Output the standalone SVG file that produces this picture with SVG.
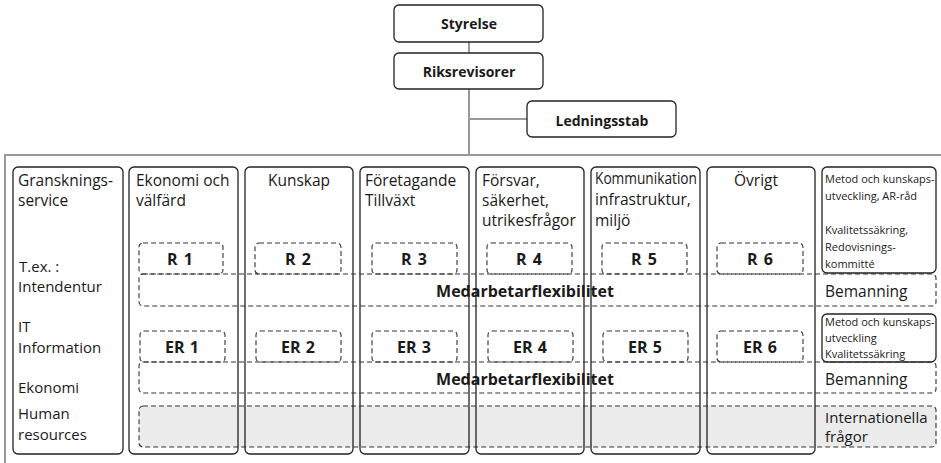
<svg xmlns="http://www.w3.org/2000/svg" width="941" height="463" viewBox="0 0 941 463">
<style>
.t{font-family:"Open Sans","Noto Sans",sans-serif;font-size:15.5px;fill:#1a1a1a}
.l{font-family:"Open Sans","Noto Sans",sans-serif;font-size:15px;fill:#1a1a1a}
.s{font-family:"Open Sans","Noto Sans",sans-serif;font-size:11px;fill:#1a1a1a}
.b{font-family:"Open Sans","Noto Sans",sans-serif;font-weight:bold;fill:#1a1a1a}
.box{fill:#fff;stroke:#222;stroke-width:1.3}
.col{fill:none;stroke:#222;stroke-width:1.3}
.dash{fill:none;stroke:#333;stroke-width:1.1;stroke-dasharray:5 3}
.gray{stroke:#999;stroke-width:2;fill:none}
.m{text-anchor:middle}
</style>
<g id="connectors">
<line class="gray" x1="469" y1="42" x2="469" y2="53"/>
<line class="gray" x1="469" y1="89" x2="469" y2="155"/>
<line class="gray" x1="469" y1="119" x2="527" y2="119"/>
<polyline class="gray" points="5,463 5,155 941,155"/>
</g>
<g id="styrelse"><rect class="box" x="394" y="5" width="149" height="37" rx="5"/><text class="b m" x="469" y="29" font-size="14">Styrelse</text></g>
<g id="riksrevisorer"><rect class="box" x="394" y="53" width="149" height="36" rx="5"/><text class="b m" x="469" y="77" font-size="14">Riksrevisorer</text></g>
<g id="ledningsstab"><rect class="box" x="527" y="101" width="149" height="36" rx="5"/><text class="b m" x="602" y="126" font-size="14">Ledningsstab</text></g>

<g id="internationella"><rect x="139" y="406" width="797" height="41" rx="4" fill="#ebebeb" stroke="#333" stroke-width="1.1" stroke-dasharray="5 3"/>
<text class="l" x="825" y="423">Internationella</text><text class="l" x="825" y="442">frågor</text></g>

<g id="col-granskning"><rect class="col" x="13" y="167" width="110" height="287" rx="5"/>
<text class="t" x="18" y="186">Gransknings-</text><text class="t" x="18" y="206">service</text>
<text class="l" x="19" y="272">T.ex. :</text><text class="l" x="18" y="292">Intendentur</text>
<text class="l" x="18" y="332">IT</text><text class="l" x="18" y="353">Information</text>
<text class="l" x="18" y="393">Ekonomi</text><text class="l" x="18" y="419">Human</text><text class="l" x="18" y="440">resources</text></g>
<g id="col-ekonomi"><rect class="col" x="129" y="167" width="109" height="287" rx="5"/>
<text class="t" x="136" y="186">Ekonomi och</text><text class="t" x="136" y="206">välfärd</text></g>
<g id="col-kunskap"><rect class="col" x="245" y="167" width="108" height="287" rx="5"/>
<text class="t m" x="299" y="186">Kunskap</text></g>
<g id="col-foretagande"><rect class="col" x="360" y="167" width="109" height="287" rx="5"/>
<text class="t" x="365" y="186">Företagande</text><text class="t" x="365" y="206">Tillväxt</text></g>
<g id="col-forsvar"><rect class="col" x="476" y="167" width="108" height="287" rx="5"/>
<text class="t" x="482" y="186">Försvar,</text><text class="t" x="482" y="206">säkerhet,</text><text class="t" x="482" y="226">utrikesfrågor</text></g>
<g id="col-kommunikation"><rect class="col" x="591" y="167" width="109" height="287" rx="5"/>
<text class="t" x="595" y="184" font-size="12.5" textLength="102" lengthAdjust="spacingAndGlyphs">Kommunikation</text><text class="t" x="595" y="205" font-size="14">infrastruktur,</text><text class="t" x="595" y="226" font-size="14">miljö</text></g>
<g id="col-ovrigt"><rect class="col" x="707" y="167" width="108" height="287" rx="5"/>
<text class="t m" x="756" y="186">Övrigt</text></g>
<g id="metod1"><rect class="col" x="822" y="167" width="114" height="106" rx="5"/>
<text class="s" x="825" y="183">Metod och kunskaps-</text><text class="s" x="825" y="200">utveckling, AR-råd</text>
<text class="s" x="825" y="234">Kvalitetssäkring,</text><text class="s" x="825" y="251">Redovisnings-</text><text class="s" x="825" y="268">kommitté</text></g>
<g id="metod2"><rect class="col" x="822" y="314" width="114" height="48" rx="5"/>
<text class="s" x="825" y="326">Metod och kunskaps-</text><text class="s" x="825" y="342">utveckling</text><text class="s" x="825" y="358">Kvalitetssäkring</text></g>

<g id="r1"><rect class="dash" x="139" y="243" width="84" height="31" rx="4"/><text class="b m" x="180" y="265" font-size="16" word-spacing="2">R 1</text></g>
<g id="r2"><rect class="dash" x="255" y="243" width="86" height="31" rx="4"/><text class="b m" x="298" y="265" font-size="16" word-spacing="2">R 2</text></g>
<g id="r3"><rect class="dash" x="372" y="243" width="85" height="31" rx="4"/><text class="b m" x="414" y="265" font-size="16" word-spacing="2">R 3</text></g>
<g id="r4"><rect class="dash" x="487" y="243" width="85" height="31" rx="4"/><text class="b m" x="529" y="265" font-size="16" word-spacing="2">R 4</text></g>
<g id="r5"><rect class="dash" x="602" y="243" width="85" height="31" rx="4"/><text class="b m" x="644" y="265" font-size="16" word-spacing="2">R 5</text></g>
<g id="r6"><rect class="dash" x="717" y="243" width="86" height="31" rx="4"/><text class="b m" x="760" y="265" font-size="16" word-spacing="2">R 6</text></g>

<g id="flex1"><rect class="dash" x="139" y="274" width="797" height="32" rx="4"/>
<text class="b m" x="525" y="297" font-size="16">Medarbetarflexibilitet</text><text class="t" x="825" y="297">Bemanning</text></g>

<g id="er1"><rect class="dash" x="140" y="331" width="85" height="31" rx="4"/><text class="b m" x="182" y="353" font-size="16" word-spacing="1">ER 1</text></g>
<g id="er2"><rect class="dash" x="256" y="331" width="85" height="31" rx="4"/><text class="b m" x="298" y="353" font-size="16" word-spacing="1">ER 2</text></g>
<g id="er3"><rect class="dash" x="372" y="331" width="85" height="31" rx="4"/><text class="b m" x="414" y="353" font-size="16" word-spacing="1">ER 3</text></g>
<g id="er4"><rect class="dash" x="488" y="331" width="85" height="31" rx="4"/><text class="b m" x="530" y="353" font-size="16" word-spacing="1">ER 4</text></g>
<g id="er5"><rect class="dash" x="603" y="331" width="85" height="31" rx="4"/><text class="b m" x="645" y="353" font-size="16" word-spacing="1">ER 5</text></g>
<g id="er6"><rect class="dash" x="717" y="331" width="86" height="31" rx="4"/><text class="b m" x="760" y="353" font-size="16" word-spacing="1">ER 6</text></g>

<g id="flex2"><rect class="dash" x="139" y="362" width="797" height="31" rx="4"/>
<text class="b m" x="525" y="385" font-size="16">Medarbetarflexibilitet</text><text class="t" x="825" y="385">Bemanning</text></g>
</svg>
